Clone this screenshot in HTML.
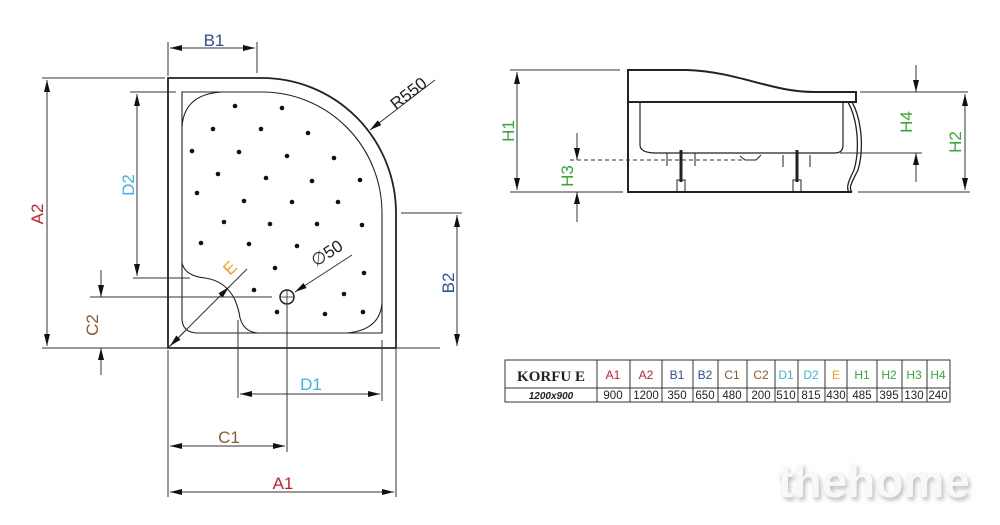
<!DOCTYPE html>
<html><head><meta charset="utf-8"><style>
html,body{margin:0;padding:0;background:#fff;}
svg{display:block;font-family:"Liberation Sans",sans-serif;}
</style></head><body>
<svg width="1000" height="525" viewBox="0 0 1000 525" xmlns="http://www.w3.org/2000/svg">
<defs>
<marker id="a" viewBox="0 0 12 6" refX="12" refY="3" markerWidth="12" markerHeight="6" markerUnits="userSpaceOnUse" orient="auto-start-reverse">
<path d="M0,0 L12,3 L0,6 Z" fill="#111"/></marker>
<filter id="sh" x="-10%" y="-20%" width="120%" height="150%"><feGaussianBlur stdDeviation="2"/></filter>
</defs>
<g stroke="#222" fill="none">
<path d="M168,78 L262,78 A134,135 0 0 1 396,213 L396,348 L168,348 Z" stroke-width="1.8"/>
<path d="M182,92 L262,92 A120,121 0 0 1 382,213 L382,333 L198,333 Q182,333 182,318 Z" stroke-width="1.1"/>
<path d="M182,127 Q184,94 222,92 M382,303 Q380,330 347,333 M182,263 Q185,276 205,278 Q226,281 235,300 Q239,310 240,318 Q244,332 258,333" stroke-width="1.1"/>
<circle cx="287" cy="297" r="7" stroke-width="1.5"/>
<path d="M280,297 H294 M287,290 V304" stroke-width="0.8"/>
</g>
<g fill="#111">
<circle cx="235" cy="106" r="2.3"/><circle cx="282" cy="108" r="2.3"/><circle cx="213" cy="129" r="2.3"/><circle cx="261" cy="129" r="2.3"/><circle cx="308" cy="133" r="2.3"/>
<circle cx="192" cy="151" r="2.3"/><circle cx="239" cy="152" r="2.3"/><circle cx="287" cy="156" r="2.3"/><circle cx="334" cy="158" r="2.3"/>
<circle cx="218" cy="174" r="2.3"/><circle cx="266" cy="178" r="2.3"/><circle cx="312" cy="181" r="2.3"/><circle cx="360" cy="180" r="2.3"/>
<circle cx="197" cy="193" r="2.3"/><circle cx="244" cy="201" r="2.3"/><circle cx="292" cy="202" r="2.3"/><circle cx="338" cy="202" r="2.3"/>
<circle cx="224" cy="222" r="2.3"/><circle cx="270" cy="224" r="2.3"/><circle cx="317" cy="224" r="2.3"/><circle cx="362" cy="225" r="2.3"/>
<circle cx="201" cy="243" r="2.3"/><circle cx="249" cy="244" r="2.3"/><circle cx="297" cy="246" r="2.3"/>
<circle cx="275" cy="268" r="2.3"/><circle cx="364" cy="273" r="2.3"/><circle cx="254" cy="290" r="2.3"/><circle cx="344" cy="294" r="2.3"/>
<circle cx="277" cy="312" r="2.3"/><circle cx="325" cy="314" r="2.3"/><circle cx="363" cy="312" r="2.3"/>
</g>
<g stroke="#333" stroke-width="1" fill="none">
<path d="M168,42 V76 M257,42 V73"/>
<path d="M170,48 H255" marker-start="url(#a)" marker-end="url(#a)"/>
<path d="M42,78 H165 M42,348 H440"/>
<path d="M47,80 V346" marker-start="url(#a)" marker-end="url(#a)"/>
<path d="M130,92 H176 M133,278 H190"/>
<path d="M137,94 V276" marker-start="url(#a)" marker-end="url(#a)"/>
<path d="M90,297 H272"/>
<path d="M101,270 V297" marker-end="url(#a)"/>
<path d="M101,375 V348" marker-end="url(#a)"/>
<path d="M247,269 L168,348" />
<path d="M222,294 L229,287" marker-end="url(#a)"/>
<path d="M185,331 L170,346" marker-end="url(#a)"/>
<path d="M352,255 L295,292" marker-end="url(#a)"/>
<path d="M435,80 L370,130" marker-end="url(#a)"/>
<path d="M401,213 H462"/>
<path d="M457,215 V346" marker-start="url(#a)" marker-end="url(#a)"/>
<path d="M168,350 V497 M396,340 V497 M287,305 V452 M238,320 V398 M382,340 V401"/>
<path d="M240,394 H380" marker-start="url(#a)" marker-end="url(#a)"/>
<path d="M170,446 H285" marker-start="url(#a)" marker-end="url(#a)"/>
<path d="M170,492 H394" marker-start="url(#a)" marker-end="url(#a)"/>
</g>
<g font-size="17">
<text x="214" y="46" fill="#2f4f9a" text-anchor="middle">B1</text>
<text transform="translate(43,214) rotate(-90)" fill="#c8202f" text-anchor="middle">A2</text>
<text transform="translate(134,185) rotate(-90)" fill="#3cb4e0" text-anchor="middle">D2</text>
<text transform="translate(98,325) rotate(-90)" fill="#8b5a2b" text-anchor="middle">C2</text>
<text transform="translate(234,272) rotate(-45)" fill="#f0a020" text-anchor="middle">E</text>
<text transform="translate(330,258) rotate(-33)" fill="#222" text-anchor="middle">∅50</text>
<text transform="translate(412,98) rotate(-38)" fill="#222" text-anchor="middle">R550</text>
<text transform="translate(454,283) rotate(-90)" fill="#2f4f9a" text-anchor="middle">B2</text>
<text x="311" y="390" fill="#3cb4e0" text-anchor="middle">D1</text>
<text x="229" y="443" fill="#8b5a2b" text-anchor="middle">C1</text>
<text x="283" y="489" fill="#c8202f" text-anchor="middle">A1</text>
</g>
<g stroke="#222" fill="none">
<path d="M628,70 L687,70 C740,72 770,92 815,92 L856,92 L856,102 L628,102 Z M628,102 L628,192 L852,192" stroke-width="2"/>
<path d="M852,102 C862,120 864,150 858,170 C852,182 848,188 852,192 M848,102 C858,120 860,150 854,170 C848,182 846,188 849,192" stroke-width="1.3"/>
<path d="M640,102 V145 Q640,153 656,153 L835,153 Q843,153 843,145 V102" stroke-width="1.2"/>
<path d="M740,156 L745,160 H756 L761,155" stroke-width="1"/>
<path d="M667,153 V166 M695,153 V166 M783,155 V167 M810,155 V167" stroke-width="1"/>
<path d="M681,150 V182 M797,150 V182" stroke-width="3"/>
<path d="M677,180 h8 v12 h-8 z M793,180 h8 v12 h-8 z" stroke-width="1"/>
</g>
<g stroke="#333" stroke-width="1" fill="none">
<path d="M510,70 H620 M510,192 H623"/>
<path d="M517,72 V190" marker-start="url(#a)" marker-end="url(#a)"/>
<path d="M570,160 H742" stroke-dasharray="4,3"/>
<path d="M577,133 V160" marker-end="url(#a)"/>
<path d="M577,222 V192" marker-end="url(#a)"/>
<path d="M860,92 H968 M840,153 H922 M858,192 H970"/>
<path d="M916,65 V92" marker-end="url(#a)"/>
<path d="M916,182 V153" marker-end="url(#a)"/>
<path d="M965,94 V190" marker-start="url(#a)" marker-end="url(#a)"/>
</g>
<g font-size="17" fill="#3aa63a">
<text transform="translate(514,131) rotate(-90)" text-anchor="middle">H1</text>
<text transform="translate(573,176) rotate(-90)" text-anchor="middle">H3</text>
<text transform="translate(912,122) rotate(-90)" text-anchor="middle">H4</text>
<text transform="translate(961,142) rotate(-90)" text-anchor="middle">H2</text>
</g>
<g stroke="#333" stroke-width="1" fill="none">
<rect x="505" y="360" width="445" height="42"/>
<path d="M505,388 H950 M597,360 V402 M630,360 V402 M662,360 V402 M693,360 V402 M718,360 V402 M747,360 V402 M775,360 V402 M798,360 V402 M825,360 V402 M847,360 V402 M877,360 V402 M902,360 V402 M927,360 V402"/>
</g>
<text x="551" y="381" font-family="Liberation Serif,serif" font-weight="bold" font-size="15" text-anchor="middle" fill="#222">KORFU E</text>
<text x="551" y="399" font-weight="bold" font-style="italic" font-size="10" text-anchor="middle" fill="#222">1200x900</text>
<g font-size="12" text-anchor="middle">
<text x="613" y="379" fill="#c8202f">A1</text><text x="646" y="379" fill="#c8202f">A2</text>
<text x="677" y="379" fill="#2f4f9a">B1</text><text x="705" y="379" fill="#2f4f9a">B2</text>
<text x="732" y="379" fill="#8b5a2b">C1</text><text x="761" y="379" fill="#8b5a2b">C2</text>
<text x="786" y="379" fill="#3cb4e0">D1</text><text x="811" y="379" fill="#3cb4e0">D2</text>
<text x="836" y="379" fill="#f0a020">E</text>
<text x="862" y="379" fill="#3aa63a">H1</text><text x="889" y="379" fill="#3aa63a">H2</text>
<text x="914" y="379" fill="#3aa63a">H3</text><text x="938" y="379" fill="#3aa63a">H4</text>
</g>
<g font-size="11.5" text-anchor="middle" fill="#222">
<text x="613" y="399">900</text><text x="646" y="399">1200</text><text x="677" y="399">350</text><text x="705" y="399">650</text>
<text x="732" y="399">480</text><text x="761" y="399">200</text><text x="786" y="399">510</text><text x="811" y="399">815</text>
<text x="836" y="399">430</text><text x="862" y="399">485</text><text x="889" y="399">395</text><text x="914" y="399">130</text><text x="938" y="399">240</text>
</g>
<text x="876" y="500" font-size="46" font-weight="bold" text-anchor="middle" fill="#bbb" filter="url(#sh)">thehome</text>
<text x="874" y="497" font-size="46" font-weight="bold" text-anchor="middle" fill="#f8f8f8">thehome</text>
</svg>
</body></html>
